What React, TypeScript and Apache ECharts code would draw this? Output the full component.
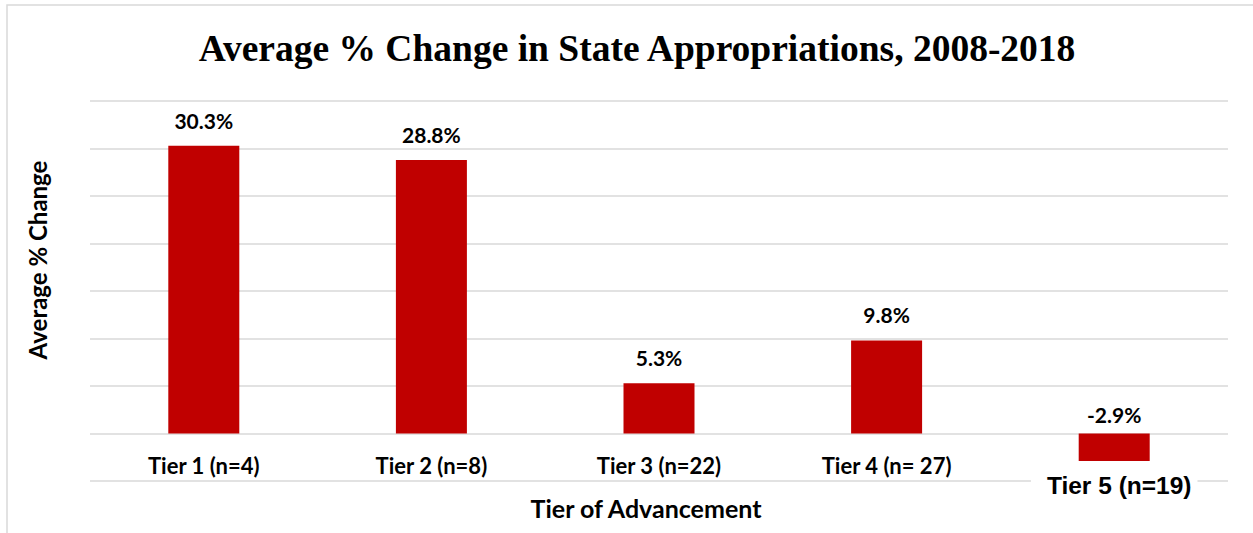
import React, { useEffect, useRef } from "react";
import * as echarts from "echarts";

const categories = ["Tier 1 (n=4)", "Tier 2 (n=8)", "Tier 3 (n=22)", "Tier 4 (n= 27)", "Tier 5 (n=19)"];
const values = [30.3, 28.8, 5.3, 9.8, -2.9];
const yMin = -5;
const yMax = 35;
const yInterval = 5;

export default function App() {
  const ref = useRef<HTMLDivElement>(null);
  useEffect(() => {
    const chart = echarts.init(ref.current!, null, { renderer: "svg" });
    chart.setOption({
      animation: false,
      backgroundColor: "#ffffff",
      title: {
        text: "Average % Change in State Appropriations, 2008-2018",
        left: 632,
        top: 24,
        textAlign: "center",
        textStyle: { fontFamily: "Liberation Serif", fontWeight: "bold", fontSize: 37.5, color: "#000" },
      },
      graphic: [
        {
          type: "rect",
          shape: { x: 7, y: 5, width: 1260, height: 540 },
          style: { fill: "none", stroke: "#d9d9d9", lineWidth: 1.5 },
          silent: true,
        },
      ],
      grid: { left: 90, right: 25, top: 101, bottom: 52, containLabel: false, outerBoundsMode: "none" },
      xAxis: {
        type: "category",
        data: categories,
        axisLine: { show: false },
        axisTick: { show: false },
        axisLabel: {
          margin: -27,
          interval: 0,
          hideOverlap: false,
          color: "#000",
          fontFamily: "Lato",
          fontWeight: "bold",
          fontSize: 22,
          formatter: (v: string) => (v === categories[4] ? "{sp|}\n{t5|" + v + "}" : "{t|" + v + "}"),
          rich: {
            t: {
              fontFamily: "Lato",
              fontWeight: "bold",
              fontSize: 22,
              color: "#000",
              lineHeight: 22,
            },
            sp: { height: 18, lineHeight: 18 },
            t5: {
              fontFamily: "Liberation Sans",
              fontWeight: "bold",
              fontSize: 24.5,
              color: "#000",
              backgroundColor: "#ffffff",
              padding: [1, 6, 1, 16],
              lineHeight: 26,
            },
          },
        },
        name: "Tier of Advancement",
        nameLocation: "middle",
        nameGap: 14,
        nameMoveOverlap: false,
        nameTextStyle: {
          color: "#000",
          fontFamily: "Lato",
          fontWeight: "bold",
          fontSize: 25,
          padding: [0, 26, 0, 0],
        },
      },
      yAxis: {
        type: "value",
        min: yMin,
        max: yMax,
        interval: yInterval,
        axisLabel: { show: false },
        axisLine: { show: false },
        axisTick: { show: false },
        splitLine: { lineStyle: { color: "#d9d9d9", width: 1.5 } },
        name: "Average % Change",
        nameLocation: "middle",
        nameGap: 41,
        nameRotate: 90,
        nameMoveOverlap: false,
        nameTextStyle: {
          color: "#000",
          fontFamily: "Lato",
          fontWeight: "bold",
          fontSize: 24,
          padding: [0, 0, 0, 62],
        },
      },
      series: [
        {
          type: "bar",
          data: values.map((v) => (v < 0 ? { value: v, label: { offset: [0, 6] } } : { value: v })),
          barWidth: 71,
          itemStyle: { color: "#c00000" },
          label: {
            show: true,
            position: "top",
            distance: 15,
            color: "#000",
            fontFamily: "Lato",
            fontWeight: "bold",
            fontSize: 21,
            formatter: (p: any) => p.value.toFixed(1) + "%",
          },
        },
      ],
    });
    return () => chart.dispose();
  }, []);
  return <div ref={ref} style={{ position: "fixed", left: 0, top: 0, width: 1253, height: 533 }} />;
}
